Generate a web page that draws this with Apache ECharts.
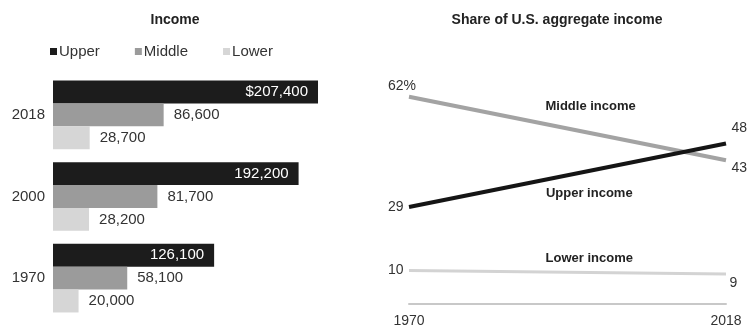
<!DOCTYPE html>
<html><head><meta charset="utf-8">
<script src="https://cdn.jsdelivr.net/npm/echarts@6/dist/echarts.min.js"></script>
<style>html,body{margin:0;padding:0;background:#fff}#c{width:750px;height:333px}</style>
</head><body><div id="c"></div>
<script>
const years = ['1970', '2000', '2018'];
const upperIncome = [126100, 192200, 207400];
const middleIncome = [58100, 81700, 86600];
const lowerIncome = [20000, 28200, 28700];

const shareYears = [1970, 2018];
const upperShare = [29, 48];
const middleShare = [62, 43];
const lowerShare = [10, 9];

const FONT = 'Liberation Sans';
const fmt = v => v.toLocaleString('en-US');
const chart = echarts.init(document.getElementById('c'));

function endLabels(vals, cfg) {
  return vals.map((v, i) => ({
    value: [shareYears[i], v],
    label: Object.assign({show: true, fontSize: 14, color: '#333', fontFamily: FONT}, cfg[i])
  }));
}
function nameMark(name, year, val) {
  return {
    symbol: 'circle', symbolSize: 1, silent: true,
    itemStyle: {color: 'rgba(0,0,0,0)'},
    label: {show: true, formatter: name, fontWeight: 'bold', fontSize: 13, color: '#222', fontFamily: FONT, position: 'inside'},
    data: [{coord: [year, val]}]
  };
}

chart.setOption({
  animation: false,
  textStyle: {fontFamily: FONT},
  title: [
    {text: 'Income', left: 170, top: 8, textAlign: 'center',
     textStyle: {fontSize: 14, fontWeight: 'bold', color: '#222', fontFamily: FONT}},
    {text: 'Share of U.S. aggregate income', left: 552, top: 8, textAlign: 'center',
     textStyle: {fontSize: 14, fontWeight: 'bold', color: '#222', fontFamily: FONT}}
  ],
  legend: {
    left: 45, top: 39, itemWidth: 7, itemHeight: 7, itemGap: 35, icon: 'rect',
    data: ['Upper', 'Middle', 'Lower'],
    textStyle: {fontSize: 15, color: '#333', padding: [0, 0, 0, -3]}
  },
  grid: [
    {left: 53, top: 74, width: 287.5, height: 245},
    {left: 409, top: 70, width: 317, height: 234}
  ],
  xAxis: [
    {gridIndex: 0, type: 'value', min: 0, max: 225000, show: false},
    {gridIndex: 1, type: 'value', min: 1970, max: 2018,
     splitLine: {show: false}, axisTick: {show: false},
     axisLine: {show: true, lineStyle: {color: '#c8c8c8', width: 2}},
     axisLabel: {customValues: shareYears, fontSize: 14, color: '#333', margin: 10, fontFamily: FONT, formatter: v => String(v)}}
  ],
  yAxis: [
    {gridIndex: 0, type: 'category', data: years,
     axisLine: {show: false}, axisTick: {show: false},
     axisLabel: {fontSize: 15, color: '#333', margin: 8}},
    {gridIndex: 1, type: 'value', min: 0, max: 70, show: false}
  ],
  series: [
    {name: 'Upper', type: 'bar', xAxisIndex: 0, yAxisIndex: 0, data: upperIncome,
     barGap: '0%', barCategoryGap: '16%', itemStyle: {color: '#1c1c1c'},
     label: {show: true, position: 'insideRight', color: '#fff', fontSize: 15, distance: 10,
       formatter: p => (p.dataIndex === 2 ? '$' : '') + fmt(p.value)}},
    {name: 'Middle', type: 'bar', xAxisIndex: 0, yAxisIndex: 0, data: middleIncome,
     barGap: '0%', barCategoryGap: '16%', itemStyle: {color: '#9b9b9b'},
     label: {show: true, position: 'right', color: '#333', fontSize: 15, distance: 10,
       formatter: p => fmt(p.value)}},
    {name: 'Lower', type: 'bar', xAxisIndex: 0, yAxisIndex: 0, data: lowerIncome,
     barGap: '0%', barCategoryGap: '16%', itemStyle: {color: '#d6d6d6'},
     label: {show: true, position: 'right', color: '#333', fontSize: 15, distance: 10,
       formatter: p => fmt(p.value)}},
    {name: 'Middle income', type: 'line', xAxisIndex: 1, yAxisIndex: 1,
     symbol: 'circle', symbolSize: 1, showSymbol: true, itemStyle: {color: 'rgba(0,0,0,0)'},
     lineStyle: {color: '#a3a3a3', width: 4},
     data: endLabels(middleShare, [
       {position: 'top', offset: [-7, 2], formatter: p => p.value[1] + '%'},
       {position: 'right', offset: [0, 8], formatter: p => p.value[1]}]),
     markPoint: nameMark('Middle income', 1997.5, 59)},
    {name: 'Upper income', type: 'line', xAxisIndex: 1, yAxisIndex: 1,
     symbol: 'circle', symbolSize: 1, showSymbol: true, itemStyle: {color: 'rgba(0,0,0,0)'},
     lineStyle: {color: '#151515', width: 4},
     data: endLabels(upperShare, [
       {position: 'left', formatter: p => p.value[1]},
       {position: 'right', offset: [0, -15], formatter: p => p.value[1]}]),
     markPoint: nameMark('Upper income', 1997.3, 33)},
    {name: 'Lower income', type: 'line', xAxisIndex: 1, yAxisIndex: 1,
     symbol: 'circle', symbolSize: 1, showSymbol: true, itemStyle: {color: 'rgba(0,0,0,0)'},
     lineStyle: {color: '#d3d3d3', width: 3},
     data: endLabels(lowerShare, [
       {position: 'left', formatter: p => p.value[1]},
       {position: 'right', offset: [-2, 9], formatter: p => p.value[1]}]),
     markPoint: nameMark('Lower income', 1997.3, 13.5)}
  ]
});
</script></body></html>
